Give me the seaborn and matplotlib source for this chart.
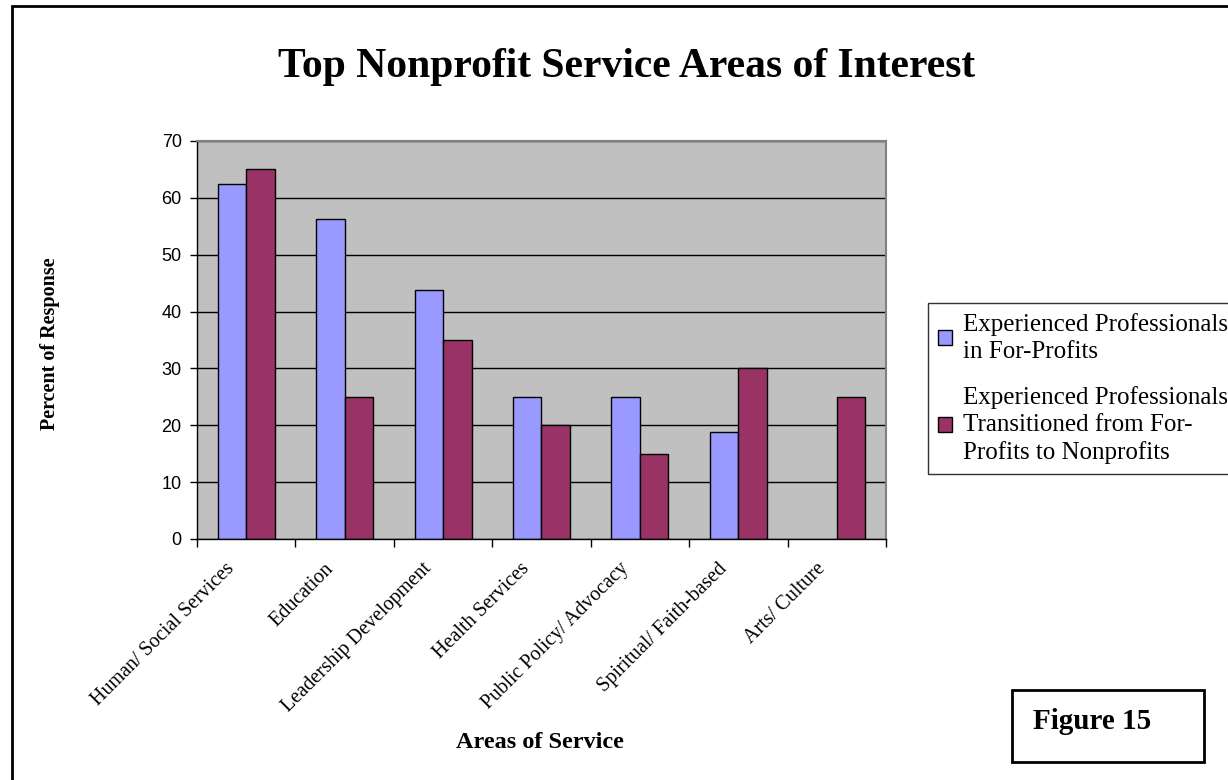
import numpy as np
import pandas as pd
import matplotlib
matplotlib.use("Agg")
import matplotlib.pyplot as plt
from matplotlib.patches import Rectangle
from matplotlib.transforms import ScaledTranslation
import seaborn as sns

# Survey data: share of respondents interested in each service area
areas = [
    "Human/ Social Services",
    "Education",
    "Leadership Development",
    "Health Services",
    "Public Policy/ Advocacy",
    "Spiritual/ Faith-based",
    "Arts/ Culture",
]
group_names = [
    "Experienced Professionals\nin For-Profits",
    "Experienced Professionals\nTransitioned from For-\nProfits to Nonprofits",
]
for_profit = [62.5, 56.25, 43.75, 25, 25, 18.75, np.nan]
transitioned = [65, 25, 35, 20, 15, 30, 25]
y_ticks = [0, 10, 20, 30, 40, 50, 60, 70]

colors = {group_names[0]: "#9999FF", group_names[1]: "#993366"}

df = pd.DataFrame({
    "area": areas * 2,
    "group": [group_names[0]] * len(areas) + [group_names[1]] * len(areas),
    "value": for_profit + transitioned,
})

sns.set_theme(style="white")
plt.rcParams.update({
    "text.color": "black",
    "axes.labelcolor": "black",
    "xtick.color": "black",
    "ytick.color": "black",
})
serif = ["Liberation Serif", "DejaVu Serif"]
sans = ["Liberation Sans", "DejaVu Sans"]

fig = plt.figure(figsize=(12.28, 7.80), dpi=100)
fig.patch.set_facecolor("white")

ax = fig.add_axes([0.1604, 0.3090, 0.5611, 0.5103])
ax.set_facecolor("#C0C0C0")
ax.set_axisbelow(True)

sns.barplot(
    data=df, x="area", y="value", hue="group",
    order=areas, hue_order=group_names, palette=colors, saturation=1,
    width=0.58, edgecolor="black", linewidth=1.0,
    errorbar=None, ax=ax, legend=True,
)

ax.set_xlim(-0.5, len(areas) - 0.5)
ax.set_ylim(0, 70)
ax.set_yticks(y_ticks)
ax.yaxis.grid(True, color="black", linewidth=1.0)
ax.xaxis.grid(False)

for s in ["left", "bottom"]:
    ax.spines[s].set_color("black")
    ax.spines[s].set_linewidth(1.0)
for s in ["top", "right"]:
    ax.spines[s].set_color("#808080")
    ax.spines[s].set_linewidth(1.5)

ax.tick_params(axis="y", which="major", direction="out", length=5,
               width=1, color="black", left=True, pad=6)
for lab in ax.get_yticklabels():
    lab.set_fontfamily(sans)
    lab.set_fontsize(13)

# category labels sit at centres; ticks mark the category boundaries
ax.set_xticks(np.arange(len(areas)))
ax.set_xticks(np.arange(len(areas) + 1) - 0.5, minor=True)
ax.tick_params(axis="x", which="major", length=0, pad=8)
ax.tick_params(axis="x", which="minor", direction="out", length=6,
               width=1, color="black", bottom=True)
ax.set_xticklabels(areas, rotation=45, ha="right", rotation_mode="anchor",
                   fontfamily=serif, fontsize=14.5)
shift = ScaledTranslation(-21 / 100, -9 / 100, fig.dpi_scale_trans)
for lab in ax.get_xticklabels():
    lab.set_transform(lab.get_transform() + shift)
ax.set_xlabel("")
ax.set_ylabel("")

# move the legend to the figure margin
ax.get_legend().remove()
handles = [Rectangle((0, 0), 1, 1, facecolor=colors[g], edgecolor="black",
                     linewidth=1) for g in group_names]
leg = fig.legend(handles, group_names, loc="upper left",
                 bbox_to_anchor=(928 / 1228, 1 - 303 / 780),
                 frameon=True, fancybox=False, edgecolor="black",
                 prop={"family": serif, "size": 18},
                 handlelength=0.55, handleheight=0.55, handletextpad=0.45,
                 labelspacing=0.9, borderpad=0.4, borderaxespad=0)
leg.get_frame().set_linewidth(1.0)
for t in leg.get_texts():
    t.set_linespacing(1.3)

fig.text(627 / 1228, 1 - 77 / 780, "Top Nonprofit Service Areas of Interest",
         ha="center", va="baseline", fontfamily=serif, fontweight="bold",
         fontsize=30)
fig.text(50 / 1228, 1 - 344 / 780, "Percent of Response", rotation=90,
         ha="center", va="center", fontfamily=serif, fontweight="bold",
         fontsize=14.5)
fig.text(540 / 1228, 1 - 743 / 780, "Areas of Service", ha="center",
         va="center", fontfamily=serif, fontweight="bold", fontsize=17.5)

# caption box
fig.patches.append(Rectangle((1012 / 1228, 1 - 762 / 780), 192 / 1228,
                             72 / 780, transform=fig.transFigure,
                             facecolor="white", edgecolor="black",
                             linewidth=2))
fig.text(1033 / 1228, 1 - 729 / 780, "Figure 15", ha="left", va="baseline",
         fontfamily=serif, fontweight="bold", fontsize=21)

# outer frame
fig.patches.append(Rectangle((12 / 1228, -0.05), 1.1, 1.05 - 6 / 780,
                             transform=fig.transFigure, facecolor="none",
                             edgecolor="black", linewidth=2))

fig.savefig("out.png", dpi=100)
